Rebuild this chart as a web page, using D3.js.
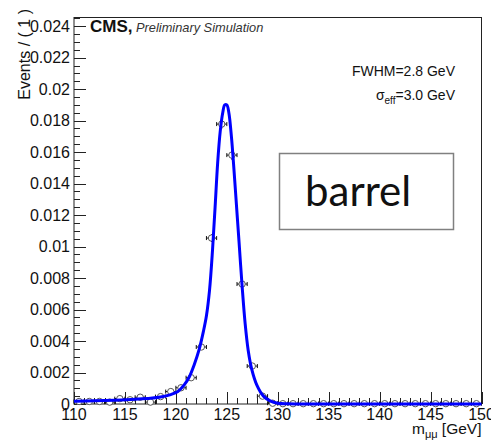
<!DOCTYPE html>
<html><head><meta charset="utf-8">
<script src="https://cdn.jsdelivr.net/npm/d3@7"></script>
<style>html,body{margin:0;padding:0;background:#fff;}svg{display:block;}</style>
</head><body>
<svg id="c" width="491" height="441"></svg>
<script>
// ---- data ----
const binCenters = [110.5,111.5,112.5,113.5,114.5,115.5,116.5,117.5,118.5,119.5,120.5,121.5,122.5,123.5,124.5,125.5,126.5,127.5,128.5,129.5,130.5,131.5,132.5,133.5,134.5,135.5,136.5,137.5,138.5,139.5,140.5,141.5,142.5,143.5,144.5,145.5,146.5,147.5,148.5,149.5];
const binValues  = [0.00016,0.00016,0.00016,0.00012,0.00034,0.00027,0.00043,0.00012,0.00047,0.00079,0.00103,0.00167,0.00362,0.01054,0.01778,0.01581,0.00762,0.00241,0.0005,0.00005,0.00002,0.00002,0.00002,0.00002,0.00002,0.00002,0.00002,0.00002,0.00002,0.00002,0.00002,0.00002,0.00002,0.00002,0.00002,0.00002,0.00002,0.00002,0.00002,0.00002];
const binErrors  = [0.00005,0.00005,0.00005,0.00005,0.00006,0.00006,0.00007,0.00005,0.00007,0.00009,0.0001,0.00012,0.00016,0.00025,0.0003,0.0003,0.00022,0.00013,0.00007,0.00003,0.00002,0.00002,0.00002,0.00002,0.00002,0.00002,0.00002,0.00002,0.00002,0.00002,0.00002,0.00002,0.00002,0.00002,0.00002,0.00002,0.00002,0.00002,0.00002,0.00002];
const fitMass  = [110,112,114,116,117.5,118.5,119.5,120.2,120.8,121.3,121.8,122.3,122.7,123.0,123.3,123.6,123.85,124.1,124.35,124.6,124.8,125.0,125.2,125.45,125.7,125.95,126.2,126.5,126.8,127.1,127.45,127.95,128.6,129.25,130,131,135,150];
const fitValue = [0.00018,0.0002,0.00024,0.0003,0.00036,0.00044,0.0006,0.0008,0.0012,0.0017,0.0025,0.0035,0.0046,0.0056,0.0072,0.0098,0.0125,0.0153,0.0173,0.0185,0.0190,0.0190,0.0185,0.0170,0.0149,0.0126,0.0103,0.0075,0.0051,0.0034,0.0022,0.0012,0.0005,0.0002,0.00005,0.00001,0,0];
const xMajorTicks = [110,115,120,125,130,135,140,145,150];
const yMajorTicks = [0,0.002,0.004,0.006,0.008,0.01,0.012,0.014,0.016,0.018,0.02,0.022,0.024];
const binWidth = 1;

// ---- layout ----
const svg = d3.select("#c");
const L = 74, R = 481.5, T = 17.5, B = 404;
const x = d3.scaleLinear().domain([110,150]).range([L,R]);
const y = d3.scaleLinear().domain([0,0.02455]).range([B,T]);
const font = "'Liberation Sans', Arial, sans-serif";

// frame
svg.append("rect").attr("x",L).attr("y",T).attr("width",R-L).attr("height",B-T)
  .attr("fill","none").attr("stroke","#222").attr("stroke-width",1);

// y axis ticks (inward)
const yMinor = d3.range(0,0.02451,0.0005);
const yAx = svg.append("g").attr("transform",`translate(${L},0)`);
yAx.selectAll("line.mn").data(yMinor).join("line")
  .attr("x1",0).attr("x2",6).attr("y1",d=>Math.round(y(d))+0.5).attr("y2",d=>Math.round(y(d))+0.5)
  .attr("stroke","#222").attr("stroke-width",1);
yAx.selectAll("line.mj").data(yMajorTicks).join("line")
  .attr("x1",0).attr("x2",12).attr("y1",d=>Math.round(y(d))+0.5).attr("y2",d=>Math.round(y(d))+0.5)
  .attr("stroke","#222").attr("stroke-width",1);
const yFmt = d => d===0 ? "0" : String(+d.toFixed(3));
yAx.selectAll("text").data(yMajorTicks).join("text")
  .attr("x",-4).attr("y",d=>y(d)+5.5).attr("text-anchor","end")
  .attr("font-family",font).attr("font-size",16).attr("fill","#111")
  .text(yFmt);

// x axis ticks (inward)
const xMinor = d3.range(110,150.01,1);
const xAx = svg.append("g").attr("transform",`translate(0,${B})`);
xAx.selectAll("line.mn").data(xMinor).join("line")
  .attr("x1",d=>Math.round(x(d))+0.5).attr("x2",d=>Math.round(x(d))+0.5).attr("y1",0).attr("y2",-6)
  .attr("stroke","#222").attr("stroke-width",1);
xAx.selectAll("line.mj").data(xMajorTicks).join("line")
  .attr("x1",d=>Math.round(x(d))+0.5).attr("x2",d=>Math.round(x(d))+0.5).attr("y1",0).attr("y2",-12)
  .attr("stroke","#222").attr("stroke-width",1);
xAx.selectAll("text").data(xMajorTicks).join("text")
  .attr("x",d=>x(d)).attr("y",16).attr("text-anchor","middle")
  .attr("font-family",font).attr("font-size",16).attr("fill","#111")
  .text(d=>d);

// axis titles
const xt = svg.append("text").attr("x",R).attr("y",434).attr("text-anchor","end")
  .attr("font-family",font).attr("font-size",15.5).attr("fill","#111");
xt.append("tspan").text("m");
xt.append("tspan").attr("dy",4).attr("font-size",11).text("μμ");
xt.append("tspan").attr("dy",-4).text(" [GeV]");

svg.append("text").attr("transform","translate(30,9) rotate(-90)").attr("text-anchor","end")
  .attr("font-family",font).attr("font-size",16).attr("fill","#111")
  .text("Events / ( 1 )");

// data points
const pts = svg.append("g");
const data = binCenters.map((c,i)=>({c, v:binValues[i], e:binErrors[i]}));
pts.selectAll("line.h").data(data).join("line")
  .attr("x1",d=>x(d.c-binWidth/2)).attr("x2",d=>x(d.c+binWidth/2))
  .attr("y1",d=>y(d.v)).attr("y2",d=>y(d.v)).attr("stroke","#111").attr("stroke-width",1);
pts.selectAll("line.cl").data(data).join("line")
  .attr("x1",d=>x(d.c-binWidth/2)).attr("x2",d=>x(d.c-binWidth/2))
  .attr("y1",d=>y(d.v)-2).attr("y2",d=>y(d.v)+2).attr("stroke","#111").attr("stroke-width",1);
pts.selectAll("line.cr").data(data).join("line")
  .attr("x1",d=>x(d.c+binWidth/2)).attr("x2",d=>x(d.c+binWidth/2))
  .attr("y1",d=>y(d.v)-2).attr("y2",d=>y(d.v)+2).attr("stroke","#111").attr("stroke-width",1);
pts.selectAll("line.v").data(data).join("line")
  .attr("x1",d=>x(d.c)).attr("x2",d=>x(d.c))
  .attr("y1",d=>y(d.v+d.e)).attr("y2",d=>y(Math.max(0,d.v-d.e))).attr("stroke","#111").attr("stroke-width",1);
pts.selectAll("circle").data(data).join("circle")
  .attr("cx",d=>x(d.c)).attr("cy",d=>y(d.v)).attr("r",3.2)
  .attr("fill","#fff").attr("stroke","#555").attr("stroke-width",1);

// fit curve
const fit = fitMass.map((m,i)=>[m,fitValue[i]]);
svg.append("path").datum(fit)
  .attr("d", d3.line().x(d=>x(d[0])).y(d=>y(d[1])).curve(d3.curveCatmullRom.alpha(0.5)))
  .attr("fill","none").attr("stroke","#0000ff").attr("stroke-width",3);

// CMS label
const cms = svg.append("text").attr("x",90).attr("y",32).attr("font-family",font).attr("fill","#111");
cms.append("tspan").attr("font-weight","bold").attr("font-size",17).text("CMS,");
cms.append("tspan").attr("font-style","italic").attr("font-size",12.8).attr("fill","#333").text(" Preliminary Simulation");

// FWHM / sigma_eff
svg.append("text").attr("x",455).attr("y",76).attr("text-anchor","end")
  .attr("font-family",font).attr("font-size",14).attr("fill","#111").text("FWHM=2.8 GeV");
const se = svg.append("text").attr("x",455).attr("y",100).attr("text-anchor","end")
  .attr("font-family",font).attr("font-size",14).attr("fill","#111");
se.append("tspan").text("σ");
se.append("tspan").attr("dy",4).attr("font-size",10).text("eff");
se.append("tspan").attr("dy",-4).text("=3.0 GeV");

// barrel box
svg.append("rect").attr("x",279.5).attr("y",153.5).attr("width",174).attr("height",76)
  .attr("fill","#fff").attr("stroke","#808080").attr("stroke-width",1.5);
svg.append("text").attr("x",305).attr("y",206).attr("font-family","Lato, 'Open Sans', sans-serif")
  .attr("font-size",42).attr("fill","#111").text("barrel");
</script>
</body></html>
